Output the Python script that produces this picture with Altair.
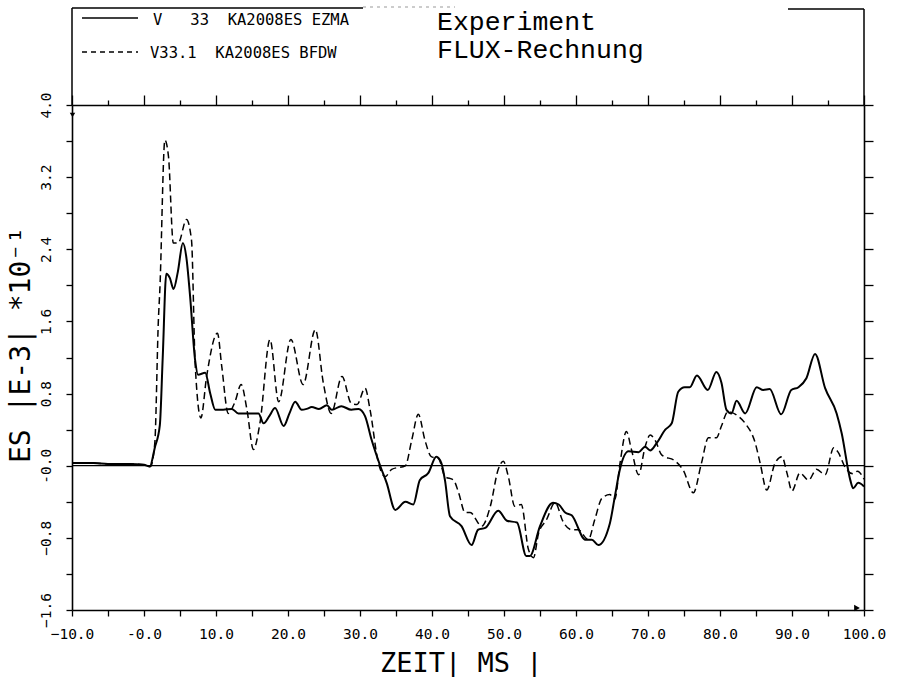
import altair as alt
import pandas as pd

# Messkurve V 33 (Experiment): Zeit in ms, ES in Einheiten von 1E-4
t_exp = [-10, -7, -5, -2, 0, 0.8, 1.5, 2.2, 2.6, 3.1, 3.6, 4.1, 4.7, 5.4, 5.9, 6.4, 7.1, 7.5,
         8.5, 9.2, 9.9, 11.0, 12.2, 13.1, 15.9, 16.6, 17.4, 18.2, 19.4, 20.2, 21.0, 21.9, 22.6,
         23.3, 24.3, 25.4, 26.1, 27.4, 28.8, 29.8, 30.7, 31.6, 32.8, 33.7, 34.9, 36.3, 37.4,
         38.3, 39.5, 40.6, 41.3, 41.8, 42.5, 44.1, 45.5, 46.4, 47.4, 49.2, 50.4, 51.8, 53.1,
         53.6, 55.0, 56.8, 57.6, 58.5, 59.4, 61.3, 62.2, 63.1, 64.7, 65.4, 66.1, 67.3, 68.7,
         69.6, 70.3, 71.2, 72.4, 73.3, 74.2, 75.1, 75.8, 76.8, 78.3, 79.5, 80.2, 80.9, 81.6,
         82.3, 83.5, 85.1, 86.0, 86.9, 88.5, 89.9, 90.9, 92.0, 93.2, 94.6, 96.2, 96.9, 98.1,
         98.5, 99.2, 100]
es_exp = [0.03, 0.03, 0.02, 0.02, 0.01, -0.01, 0.20, 0.45, 1.20, 2.13, 2.08, 1.96, 2.15, 2.47,
          2.30, 1.88, 1.17, 1.01, 1.03, 0.80, 0.62, 0.62, 0.63, 0.58, 0.58, 0.47, 0.55, 0.64,
          0.44, 0.58, 0.71, 0.62, 0.63, 0.65, 0.63, 0.67, 0.62, 0.66, 0.62, 0.63, 0.55, 0.29,
          0.00, -0.19, -0.49, -0.40, -0.43, -0.16, -0.08, 0.10, 0.03, -0.16, -0.56, -0.67,
          -0.88, -0.71, -0.69, -0.50, -0.61, -0.63, -1.00, -1.00, -0.67, -0.41, -0.43, -0.52,
          -0.55, -0.82, -0.82, -0.88, -0.64, -0.34, -0.04, 0.16, 0.15, 0.21, 0.17, 0.25, 0.40,
          0.47, 0.82, 0.87, 0.87, 1.00, 0.84, 1.04, 0.92, 0.62, 0.58, 0.72, 0.58, 0.87, 0.84,
          0.85, 0.57, 0.84, 0.87, 0.97, 1.24, 0.86, 0.58, 0.36, -0.16, -0.25, -0.19, -0.23]

# Rechenkurve V33.1 (FLUX-Rechnung)
t_flux = [-10, -7, -5, -2, 0, 0.9, 1.5, 2.0, 2.2, 2.9, 3.4, 4.07, 4.76, 5.9, 6.6, 7.1, 7.9,
          8.7, 10.2, 10.8, 11.7, 12.6, 13.5, 14.3, 15.2, 16.1, 17.5, 18.7, 20.4, 22.1, 23.8,
          24.9, 26.0, 27.5, 28.8, 29.6, 30.7, 31.4, 32.5, 33.5, 34.4, 36.3, 37.2, 38.1, 39.0,
          39.9, 40.9, 41.8, 43.0, 43.7, 44.6, 45.3, 46.9, 48.1, 49.2, 49.9, 50.6, 51.5, 52.4,
          53.4, 54.1, 54.8, 55.9, 57.1, 58.2, 59.4, 60.3, 61.7, 62.6, 63.6, 64.7, 65.4, 66.1,
          67.0, 67.7, 68.7, 69.6, 70.3, 71.0, 71.9, 73.8, 74.9, 76.3, 77.4, 78.4, 79.5, 80.2,
          81.1, 82.5, 83.5, 84.9, 85.6, 86.5, 87.6, 88.6, 89.3, 90.0, 91.1, 92.3, 93.4, 94.6,
          95.8, 96.4, 97.4, 98.5, 99.1, 100]
es_flux = [0.03, 0.03, 0.02, 0.02, 0.01, -0.01, 0.25, 1.62, 1.95, 3.61, 3.43, 2.47, 2.47, 2.73,
           2.50, 1.14, 0.53, 0.99, 1.47, 1.10, 0.58, 0.70, 0.90, 0.62, 0.18, 0.47, 1.40, 0.71,
           1.40, 0.90, 1.51, 0.92, 0.58, 0.99, 0.69, 0.68, 0.86, 0.62, 0.05, -0.12, -0.04, 0.00,
           0.29, 0.57, 0.29, 0.10, 0.08, -0.12, -0.16, -0.30, -0.52, -0.52, -0.67, -0.45, -0.04,
           0.05, -0.12, -0.45, -0.43, -0.93, -1.02, -0.75, -0.60, -0.41, -0.62, -0.71, -0.71,
           -0.82, -0.60, -0.36, -0.32, -0.37, 0.02, 0.38, 0.18, -0.10, 0.21, 0.34, 0.28, 0.12,
           0.05, -0.05, -0.30, 0.02, 0.31, 0.31, 0.44, 0.60, 0.55, 0.47, 0.25, 0.02, -0.27, 0.02,
           0.10, -0.08, -0.28, -0.08, -0.16, -0.04, -0.10, 0.20, 0.15, -0.02, -0.09, -0.06, -0.15]

x_ticks = [-10, -5, 0, 5, 10, 15, 20, 25, 30, 35, 40, 45, 50, 55, 60, 65, 70, 75, 80, 85,
           90, 95, 100]
y_ticks = [-1.6, -1.2, -0.8, -0.4, 0.0, 0.4, 0.8, 1.2, 1.6, 2.0, 2.4, 2.8, 3.2, 3.6, 4.0]

NB = "\u00a0"  # keeps runs of spaces in SVG text
legend_lines = ["V" + NB * 3 + "33" + NB * 2 + "KA2008ES" + NB + "EZMA",
                "V33.1" + NB * 2 + "KA2008ES" + NB + "BFDW"]
header_lines = ["Experiment", "FLUX-Rechnung"]
x_title = "ZEIT|" + NB + "MS" + NB + "|"
y_title = "ES" + NB + "|E-3|" + NB + "*10⁻¹"

MONO = "DejaVu Sans Mono"
TYPE = "Liberation Mono"

xs = alt.Scale(domain=[-10, 100], nice=False, zero=False)
ys = alt.Scale(domain=[-1.6, 4.0], nice=False, zero=False)

exp_df = pd.DataFrame({"t": t_exp, "es": es_exp})
flux_df = pd.DataFrame({"t": t_flux, "es": es_flux})

x_label_expr = ("datum.value % 10 !== 0 ? '' : "
                "(datum.value === 0 ? '-0.0' : format(datum.value, '.1f'))")
y_label_expr = ("(abs(datum.value * 10) % 8 > 0.5 && abs(datum.value * 10) % 8 < 7.5) ? '' : "
                "(abs(datum.value) < 0.001 ? '-0.0' : format(datum.value, '.1f'))")

axis_common = dict(domainColor="black", domainWidth=1.6, tickColor="black", tickWidth=1.3,
                   grid=False, labelColor="black", labelFont=MONO, labelFontSize=14.5,
                   labelOverlap=False, labelFlush=False, title=None)

bottom_axis = alt.Axis(orient="bottom", values=x_ticks, labelExpr=x_label_expr,
                       tickSize=6, labelPadding=11, **axis_common)
left_axis = alt.Axis(orient="left", values=y_ticks, labelExpr=y_label_expr, tickSize=6,
                     labelAngle=270, labelAlign="center", labelBaseline="alphabetic",
                     labelPadding=16, **axis_common)
top_axis = alt.Axis(orient="top", values=x_ticks, labels=False,
                    tickSize={"condition": {"test": "datum.value % 10 === 0", "value": 10},
                              "value": 5},
                    **axis_common)
right_axis = alt.Axis(orient="right", values=y_ticks, labels=False, tickSize=9,
                      **axis_common)

# measured curve (solid) carries the labelled axes
solid = alt.Chart(exp_df).mark_line(color="black", strokeWidth=2,
                                     interpolate="monotone").encode(
    x=alt.X("t:Q", scale=xs, axis=bottom_axis),
    y=alt.Y("es:Q", scale=ys, axis=left_axis),
)

# computed curve (dashed)
dashed = alt.Chart(flux_df).mark_line(color="black", strokeWidth=1.5, strokeDash=[7, 4],
                                      interpolate="monotone").encode(
    x=alt.X("t:Q", scale=xs, axis=None),
    y=alt.Y("es:Q", scale=ys, axis=None),
)

# frame on top and right side, ticks only
frame = alt.Chart(pd.DataFrame({"t": [-10], "es": [0.0]})).mark_point(opacity=0).encode(
    x=alt.X("t:Q", scale=xs, axis=top_axis),
    y=alt.Y("es:Q", scale=ys, axis=right_axis),
)

zero_line = alt.Chart(pd.DataFrame({"es": [0.0]})).mark_rule(
    color="black", strokeWidth=1.3).encode(
    y=alt.Y("es:Q", scale=ys, axis=None),
)

one = pd.DataFrame({"k": [0]})

# header box above the plot
box_left = alt.Chart(one).mark_rule(color="black", strokeWidth=1.5).encode(
    x=alt.value(0), y=alt.value(-97), y2=alt.value(0))
box_top = alt.Chart(one).mark_rule(color="black", strokeWidth=1.5).encode(
    x=alt.value(0), x2=alt.value(291), y=alt.value(-97))
box_top_faint = alt.Chart(one).mark_rule(color="#999999", strokeWidth=1,
                                         strokeDash=[3, 4]).encode(
    x=alt.value(291), x2=alt.value(383), y=alt.value(-98))
box_top_right = alt.Chart(one).mark_rule(color="black", strokeWidth=1.5).encode(
    x=alt.value(716), x2=alt.value(792), y=alt.value(-96))
box_right = alt.Chart(one).mark_rule(color="black", strokeWidth=1.5).encode(
    x=alt.value(792), y=alt.value(-96), y2=alt.value(0))

key_solid = alt.Chart(one).mark_rule(color="black", strokeWidth=1.5).encode(
    x=alt.value(10), x2=alt.value(66), y=alt.value(-87))
key_dashed = alt.Chart(one).mark_rule(color="black", strokeWidth=1.3,
                                      strokeDash=[5, 4]).encode(
    x=alt.value(10), x2=alt.value(66), y=alt.value(-53))

key_text1 = alt.Chart(pd.DataFrame({"s": [legend_lines[0]]})).mark_text(
    font=MONO, fontSize=15.5, align="left", baseline="alphabetic", color="black").encode(
    text="s:N", x=alt.value(81), y=alt.value(-80))
key_text2 = alt.Chart(pd.DataFrame({"s": [legend_lines[1]]})).mark_text(
    font=MONO, fontSize=15.5, align="left", baseline="alphabetic", color="black").encode(
    text="s:N", x=alt.value(78), y=alt.value(-47))

head1 = alt.Chart(pd.DataFrame({"s": [header_lines[0]]})).mark_text(
    font=TYPE, fontSize=26.5, align="left", baseline="alphabetic", color="black").encode(
    text="s:N", x=alt.value(365), y=alt.value(-75))
head2 = alt.Chart(pd.DataFrame({"s": [header_lines[1]]})).mark_text(
    font=TYPE, fontSize=26.5, align="left", baseline="alphabetic", color="black").encode(
    text="s:N", x=alt.value(365), y=alt.value(-47))

# axis titles
xt = alt.Chart(pd.DataFrame({"s": [x_title]})).mark_text(
    font=MONO, fontSize=27, align="left", baseline="alphabetic", color="black").encode(
    text="s:N", x=alt.value(308), y=alt.value(567))
yt = alt.Chart(pd.DataFrame({"s": [y_title]})).mark_text(
    font=MONO, fontSize=28, align="left", baseline="alphabetic", angle=270,
    color="black").encode(
    text="s:N", x=alt.value(-42), y=alt.value(358))

# small arrow heads on the frame
arrow_r = alt.Chart(one).mark_point(shape="triangle-right", filled=True, color="black",
                                    size=45, opacity=1).encode(
    x=alt.value(785), y=alt.value(503))
arrow_d = alt.Chart(one).mark_point(shape="triangle-down", filled=True, color="black",
                                    size=30, opacity=1).encode(
    x=alt.value(0.5), y=alt.value(10))

chart = alt.layer(
    zero_line, dashed, solid, frame,
    box_left, box_top, box_top_faint, box_top_right, box_right,
    key_solid, key_dashed, key_text1, key_text2, head1, head2, xt, yt,
    arrow_r, arrow_d,
).resolve_axis(
    x="independent", y="independent"
).properties(
    width=792, height=505,
    autosize=alt.AutoSizeParams(type="none"),
    padding={"left": 72, "top": 105, "right": 45, "bottom": 67},
    background="white",
).configure_view(strokeWidth=0)

chart.save("out.html", embed_options={"renderer": "svg", "actions": False})
